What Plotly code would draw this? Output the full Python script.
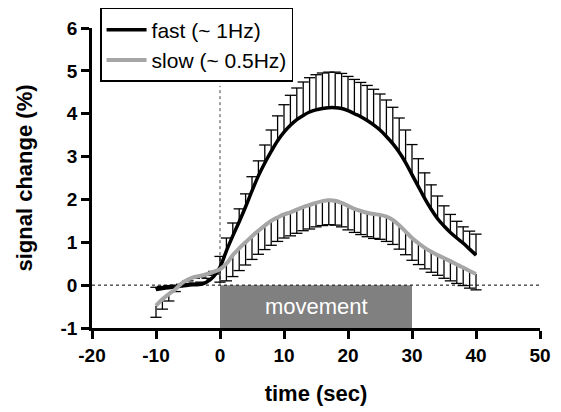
import plotly.graph_objects as go

time = list(range(-10, 41))

fast = [-0.10, -0.08, -0.06, -0.04, -0.02, 0.00, 0.01, 0.02, 0.08, 0.20,
        0.42, 0.80, 1.15, 1.48, 1.83, 2.20, 2.55, 2.85, 3.12, 3.37,
        3.57, 3.73, 3.86, 3.96, 4.04, 4.09, 4.12, 4.14, 4.14, 4.12,
        4.07, 4.00, 3.93, 3.84, 3.74, 3.62, 3.47, 3.30, 3.10, 2.86,
        2.58, 2.30, 2.02, 1.77, 1.55, 1.38, 1.23, 1.10, 0.98, 0.84, 0.70]

fast_err = [0.05, 0.05, 0.05, 0.04, 0.04, 0.04, 0.04, 0.05, 0.08, 0.12,
            0.25, 0.30, 0.30, 0.30, 0.30, 0.33, 0.35, 0.42, 0.50, 0.58,
            0.64, 0.70, 0.74, 0.78, 0.80, 0.82, 0.83, 0.83, 0.83, 0.82,
            0.80, 0.80, 0.80, 0.82, 0.83, 0.84, 0.85, 0.85, 0.80, 0.76,
            0.70, 0.65, 0.60, 0.57, 0.53, 0.47, 0.42, 0.39, 0.38, 0.42, 0.49]

slow = [-0.48, -0.33, -0.21, -0.10, 0.04, 0.13, 0.19, 0.22, 0.26, 0.31,
        0.37, 0.50, 0.70, 0.86, 1.00, 1.14, 1.27, 1.39, 1.50, 1.58,
        1.65, 1.70, 1.76, 1.82, 1.87, 1.92, 1.96, 1.98, 1.97, 1.92,
        1.85, 1.78, 1.73, 1.69, 1.66, 1.64, 1.60, 1.52, 1.40, 1.25,
        1.10, 0.98, 0.87, 0.78, 0.70, 0.63, 0.56, 0.48, 0.41, 0.33, 0.26]

slow_err = [0.27, 0.23, 0.16, 0.05, 0.03, 0.03, 0.03, 0.03, 0.03, 0.05,
            0.30, 0.40, 0.50, 0.52, 0.53, 0.54, 0.55, 0.56, 0.57, 0.56,
            0.55, 0.55, 0.55, 0.55, 0.56, 0.56, 0.57, 0.57, 0.57, 0.56,
            0.56, 0.55, 0.55, 0.56, 0.57, 0.57, 0.58, 0.57, 0.56, 0.54,
            0.52, 0.50, 0.49, 0.48, 0.47, 0.47, 0.46, 0.44, 0.42, 0.40, 0.37]

zeros = [0] * len(time)

x_ticks = [-20, -10, 0, 10, 20, 30, 40, 50]
y_ticks = [-1, 0, 1, 2, 3, 4, 5, 6]

FONT = "Liberation Sans, Arial, sans-serif"

fast_top = [m + e for m, e in zip(fast, fast_err)]
slow_bottom = [m - e for m, e in zip(slow, slow_err)]

fig = go.Figure()

# one-sided error bars: stems (no caps) ...
fig.add_trace(go.Scatter(
    x=time, y=fast, mode="markers", marker=dict(size=1, color="rgba(0,0,0,0)"),
    error_y=dict(type="data", symmetric=False, array=fast_err, arrayminus=zeros,
                 color="black", thickness=1.3, width=0),
    showlegend=False, hoverinfo="skip"))
fig.add_trace(go.Scatter(
    x=time, y=slow, mode="markers", marker=dict(size=1, color="rgba(0,0,0,0)"),
    error_y=dict(type="data", symmetric=False, array=zeros, arrayminus=slow_err,
                 color="black", thickness=1.3, width=0),
    showlegend=False, hoverinfo="skip"))
# ... and caps only at the far end
fig.add_trace(go.Scatter(
    x=time, y=fast_top, mode="markers",
    marker=dict(symbol="line-ew", size=8, line=dict(color="black", width=1.3)),
    showlegend=False, hoverinfo="skip"))
fig.add_trace(go.Scatter(
    x=time, y=slow_bottom, mode="markers",
    marker=dict(symbol="line-ew", size=8, line=dict(color="black", width=1.3)),
    showlegend=False, hoverinfo="skip"))

fig.add_trace(go.Scatter(x=time, y=fast, mode="lines", name="fast (~ 1Hz)",
                         line=dict(color="black", width=3.5, shape="spline")))
fig.add_trace(go.Scatter(x=time, y=slow, mode="lines", name="slow (~ 0.5Hz)",
                         line=dict(color="#a6a6a6", width=4, shape="spline")))

# movement block
fig.add_shape(type="rect", x0=0, x1=30, y0=-1, y1=0, fillcolor="#808080",
              line=dict(width=0), layer="below")
fig.add_annotation(x=15, y=-0.5, text="movement", showarrow=False,
                   font=dict(family=FONT, size=22, color="white"))

# dotted reference lines
fig.add_shape(type="line", x0=-20, x1=50, y0=0, y1=0,
              line=dict(color="black", width=1, dash="dot"), layer="below")
fig.add_shape(type="line", x0=0, x1=0, y0=0, y1=4.65,
              line=dict(color="#444444", width=1, dash="dot"), layer="below")

# page body has an 8px default margin: figure is 553x404 so that the plot
# lands at the reference pixel positions in the 561x412 window
fig.update_layout(
    width=553, height=404,
    margin=dict(l=84, r=21, t=20, b=84, autoexpand=False),
    plot_bgcolor="white", paper_bgcolor="white",
    font=dict(family=FONT, color="black"),
    legend=dict(x=0.018, y=1.0667, xanchor="left", yanchor="top",
                bordercolor="black", borderwidth=1.5, bgcolor="white",
                font=dict(family=FONT, size=21, color="black"),
                tracegroupgap=0, itemwidth=40),
    xaxis=dict(range=[-20, 50], tickvals=x_ticks, ticktext=[str(v) for v in x_ticks],
               showline=True, linecolor="black", linewidth=2.5, ticks="outside",
               ticklen=8, tickwidth=2.5, tickcolor="black", showgrid=False, zeroline=False,
               tickfont=dict(family=FONT, size=19, weight="bold"),
               title=dict(text="time (sec)", standoff=22,
                          font=dict(family=FONT, size=22, weight="bold"))),
    yaxis=dict(range=[-1, 6], tickvals=y_ticks, ticktext=[str(v) for v in y_ticks],
               showline=True, linecolor="black", linewidth=2.5, ticks="outside",
               ticklen=8, tickwidth=2.5, tickcolor="black", showgrid=False, zeroline=False,
               tickfont=dict(family=FONT, size=19, weight="bold"),
               title=dict(text="signal change (%)", standoff=22,
                          font=dict(family=FONT, size=22, weight="bold"))),
)

fig.write_html("out.html")
